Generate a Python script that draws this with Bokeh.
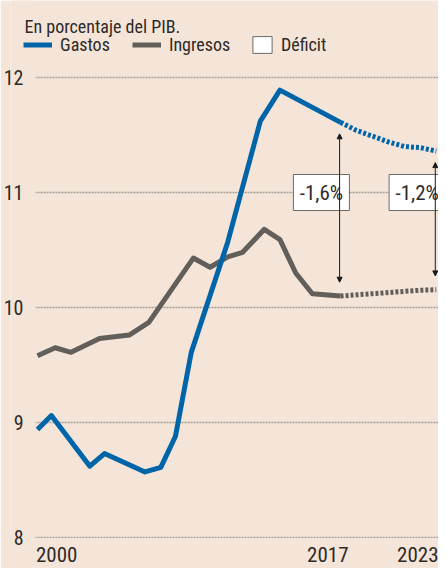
from bokeh.plotting import figure
from bokeh.models import (ColumnDataSource, FixedTicker, Legend, LegendItem, Label,
                          Arrow, NormalHead, Range1d, LinearAxis, BoxAnnotation)
from bokeh.core.properties import value
from bokeh.embed import file_html
from bokeh.resources import INLINE

# ---------------- data ----------------
gastos_years = [1998.0, 1998.87, 2001.28, 2002.2, 2004.74, 2005.73, 2006.65,
                2007.64, 2009.93, 2011.97, 2013.2, 2017.0]
gastos = [8.94, 9.06, 8.62, 8.73, 8.57, 8.61, 8.88, 9.61, 10.57, 11.62, 11.89, 11.61]

ingresos_years = [1998.0, 1999.11, 2000.1, 2001.89, 2003.75, 2004.98, 2007.77,
                  2008.82, 2009.93, 2010.86, 2012.22, 2013.2, 2014.19, 2015.23, 2017.0]
ingresos = [9.58, 9.65, 9.61, 9.73, 9.76, 9.87, 10.43, 10.35, 10.44, 10.48,
            10.68, 10.59, 10.30, 10.12, 10.10]

proj_years = [2017, 2018, 2019, 2020, 2021, 2022, 2023]
gastos_proj = [11.61, 11.54, 11.49, 11.44, 11.40, 11.39, 11.36]
ingresos_proj = [10.10, 10.11, 10.12, 10.13, 10.14, 10.15, 10.155]

deficit_years = [2017, 2023]
deficit_labels = ["-1,6%", "-1,2%"]

y_ticks = [8, 9, 10, 11, 12]
x_ticks = [2000, 2017, 2023]

subtitle = "En porcentaje del PIB."

# ---------------- style ----------------
BG = "#f5e5d9"
BLUE = "#0064a8"
GRAY = "#625e59"
TXT = "#2e2a28"
FONT = "Roboto Condensed, Liberation Sans Narrow, Arial Narrow, sans-serif"

L = 10      # frame left (px)
B = 538     # frame bottom (px)
X0, X1 = 1996.307, 2023.141
LABEL_SHIFT = 0.8  # year labels sit left of their tick, as in the original

p = figure(width=438, height=568, output_backend="svg", toolbar_location=None,
           x_range=Range1d(X0, X1), y_range=Range1d(7.9913, 12.6696),
           min_border_left=L, min_border_right=0, min_border_top=0,
           min_border_bottom=568 - B, x_axis_location=None,
           background_fill_color=BG, border_fill_color=BG, outline_line_color=None)

p.extra_x_ranges = {"lab": Range1d(X0 + LABEL_SHIFT, X1 + LABEL_SHIFT)}
xax = LinearAxis(x_range_name="lab", ticker=FixedTicker(ticks=x_ticks))
p.add_layout(xax, "below")

p.yaxis.ticker = FixedTicker(ticks=y_ticks)
for ax in (xax, p.yaxis[0]):
    ax.axis_line_color = None
    ax.major_tick_line_color = None
    ax.minor_tick_line_color = None
    ax.major_tick_out = 0
    ax.major_tick_in = 0
    ax.minor_tick_out = 0
    ax.minor_tick_in = 0
    ax.major_label_text_font = FONT
    ax.major_label_text_color = TXT
xax.major_label_text_font_size = "21px"
xax.major_label_standoff = 8
p.yaxis.major_label_text_font_size = "20px"
p.yaxis.major_label_standoff = L - 23

p.xgrid.grid_line_color = None
p.ygrid.ticker = FixedTicker(ticks=y_ticks)
p.ygrid.grid_line_color = "#a39d98"
p.ygrid.grid_line_width = 1.6
p.ygrid.grid_line_dash = "2 1"
# grid lines begin right of the tick labels
p.add_layout(BoxAnnotation(right=1997.875, fill_color=BG, fill_alpha=1,
                           line_alpha=0, level="underlay"))

# lines
src_g = ColumnDataSource(dict(x=gastos_years, y=gastos))
src_i = ColumnDataSource(dict(x=ingresos_years, y=ingresos))
src_p = ColumnDataSource(dict(x=proj_years, g=gastos_proj, i=ingresos_proj))

r_i = p.line("x", "y", source=src_i, line_color=GRAY, line_width=5, line_join="round")
p.line("x", "i", source=src_p, line_color=GRAY, line_width=5, line_dash="3 2")
r_g = p.line("x", "y", source=src_g, line_color=BLUE, line_width=5, line_join="round")
p.line("x", "g", source=src_p, line_color=BLUE, line_width=5, line_dash="3 2")

# deficit arrows and boxes
g_at = [gastos_proj[proj_years.index(y)] for y in deficit_years]
i_at = [ingresos_proj[proj_years.index(y)] for y in deficit_years]
arrow_x = [y - 0.06 for y in deficit_years]
src_a = ColumnDataSource(dict(x=arrow_x, top=[v - 0.1 for v in g_at],
                              bot=[v + 0.12 for v in i_at]))
p.add_layout(Arrow(x_start="x", y_start="top", x_end="x", y_end="bot", source=src_a,
                   line_color="#1a1a1a", line_width=1,
                   start=NormalHead(size=5, fill_color="#1a1a1a", line_color="#1a1a1a"),
                   end=NormalHead(size=5, fill_color="#1a1a1a", line_color="#1a1a1a")))

box_x = [y - 1.2 for y in deficit_years]
src_b = ColumnDataSource(dict(x=box_x, y=[11.0] * len(deficit_years), t=deficit_labels))
r_box = p.rect("x", "y", width=56, height=36, width_units="screen", height_units="screen",
               source=src_b, fill_color="white", line_color="#6e6a66", line_width=1)
p.text("x", "y", text="t", source=src_b, text_align="center", text_baseline="middle",
       text_font=value(FONT), text_font_size="21px", text_color=TXT)

# subtitle (screen units, relative to the plot frame)
p.add_layout(Label(x=24 - L, y=B - 26, x_units="screen", y_units="screen", text=subtitle,
                   text_font=FONT, text_font_size="18px", text_color=TXT,
                   text_baseline="alphabetic"))

# legends
leg1 = Legend(items=[LegendItem(label="Gastos", renderers=[r_g]),
                     LegendItem(label="Ingresos", renderers=[r_i])],
              orientation="horizontal", location=(23 - L, B - 55),
              glyph_width=29, glyph_height=21, label_standoff=8, spacing=22,
              padding=0, margin=0, border_line_color=None, background_fill_alpha=0,
              label_text_font=FONT, label_text_font_size="18px", label_text_color=TXT)
leg2 = Legend(items=[LegendItem(label="Déficit", renderers=[r_box])],
              orientation="horizontal", location=(250 - L, B - 55),
              glyph_width=24, glyph_height=21, label_standoff=7,
              padding=0, margin=0, border_line_color=None, background_fill_alpha=0,
              label_text_font=FONT, label_text_font_size="18px", label_text_color=TXT)
p.add_layout(leg1)
p.add_layout(leg2)

open("out.html", "w").write(file_html(p, INLINE))
